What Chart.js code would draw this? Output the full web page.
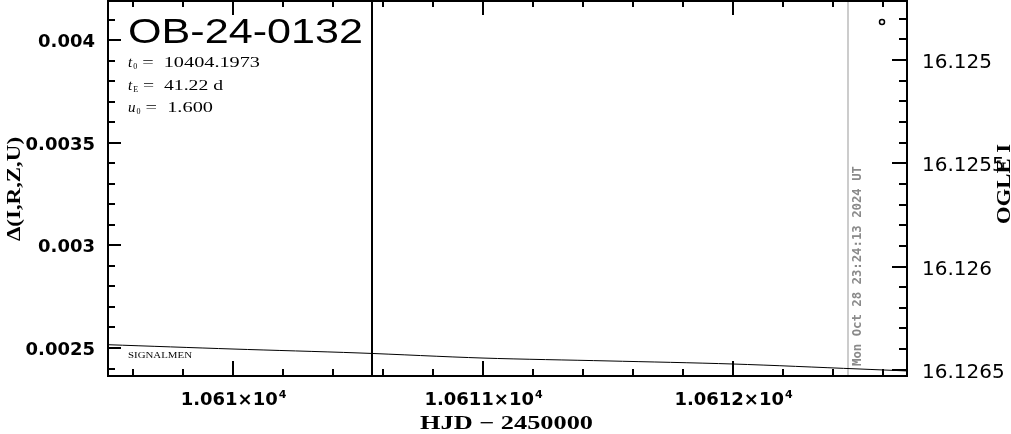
<!DOCTYPE html>
<html>
<head>
<meta charset="utf-8">
<script src="https://cdn.jsdelivr.net/npm/chart.js@4.4.0/dist/chart.umd.min.js"></script>
<style>
  html, body { margin: 0; padding: 0; background: #fff; }
  canvas { display: block; }
</style>
</head>
<body>
<canvas id="lc" width="1011" height="434"></canvas>
<script>
// datos
const modelHjd = [10609.5, 10610.0, 10610.5, 10611.0, 10611.5, 10612.0, 10612.5, 10612.7];
const modelDelta = [0.002516, 0.002495, 0.002476, 0.002451, 0.002437, 0.002422, 0.002398, 0.002388];

const obsHjd = [10612.596];
const obsMag = [16.124816];

const peakHjd = 10610.556;     // linea negra vertical
const nowHjd = 10612.46;       // linea gris (fecha actual)
const nowLabel = "Mon Oct 28 23:24:13 2024 UT";

const leftTicks = [0.0025, 0.003, 0.0035, 0.004];
const leftLabels = ["0.0025", "0.003", "0.0035", "0.004"];
const rightTicks = [16.125, 16.1255, 16.126, 16.1265];
const rightLabels = ["16.125", "16.1255", "16.126", "16.1265"];
const xTicks = [10610, 10611, 10612];
const xMantissa = ["1.061", "1.0611", "1.0612"];

const eventName = "OB-24-0132";
const t0 = "10404.1973";
const tE = "41.22 d";
const u0 = "1.600";

const X_MIN = 10609.5, X_MAX = 10612.696;
const Y_MIN = 0.0023636, Y_MAX = 0.004195;
const M_MIN = 16.12471, M_MAX = 16.12653;

// texto escalado en horizontal para imitar las fuentes anchas de PGPLOT
function fitText(ctx, text, x, y, font, width) {
  ctx.save();
  ctx.font = font;
  const w = ctx.measureText(text).width;
  ctx.translate(x, y);
  ctx.scale(width / w, 1);
  ctx.textAlign = "left";
  ctx.fillText(text, 0, 0);
  ctx.restore();
}

// =========================
// Plugin: marco, ticks hacia dentro y textos
// =========================
const framePlugin = {
  id: "frame",
  afterDraw(chart) {
    const ctx = chart.ctx;
    const a = chart.chartArea;
    const x = chart.scales.x, y = chart.scales.y, y2 = chart.scales.y2;
    ctx.save();
    ctx.strokeStyle = "#000";
    ctx.fillStyle = "#000";
    ctx.textBaseline = "alphabetic";

    // ticks eje X (abajo y arriba)
    ctx.lineWidth = 2;
    for (let v = 10609.6; v < X_MAX; v += 0.2) {
      const px = Math.round(x.getPixelForValue(v));
      const major = Math.abs(v - Math.round(v)) < 1e-6;
      const len = major ? 15 : 7;
      ctx.beginPath();
      ctx.moveTo(px, a.bottom); ctx.lineTo(px, a.bottom - len);
      ctx.moveTo(px, a.top); ctx.lineTo(px, a.top + len);
      ctx.stroke();
    }
    // ticks eje izquierdo
    for (let k = 24; k <= 41; k++) {
      const py = Math.round(y.getPixelForValue(k / 10000));
      if (py < a.top || py > a.bottom) continue;
      const len = k % 5 === 0 ? 13 : 7;
      ctx.beginPath();
      ctx.moveTo(a.left, py); ctx.lineTo(a.left + len, py);
      ctx.stroke();
    }
    // ticks eje derecho
    for (let k = 47; k <= 66; k++) {
      const py = Math.round(y2.getPixelForValue(16.12 + k / 10000));
      if (py < a.top || py > a.bottom) continue;
      const len = k % 5 === 0 ? 15 : 8;
      ctx.beginPath();
      ctx.moveTo(a.right, py); ctx.lineTo(a.right - len, py);
      ctx.stroke();
    }

    // marco
    ctx.strokeRect(a.left, a.top + 1, a.right - a.left, a.bottom - a.top - 1);

    // etiquetas izquierda
    ctx.font = "bold 18px 'DejaVu Sans', sans-serif";
    ctx.textAlign = "right";
    leftTicks.forEach((v, i) => {
      ctx.fillText(leftLabels[i], 95, y.getPixelForValue(v) + 7);
    });
    // etiquetas derecha
    ctx.font = "20px 'DejaVu Sans', sans-serif";
    ctx.textAlign = "left";
    rightTicks.forEach((v, i) => {
      ctx.fillText(rightLabels[i], 922, y2.getPixelForValue(v) + 8);
    });
    // etiquetas X
    xTicks.forEach((v, i) => {
      const px = x.getPixelForValue(v);
      ctx.font = "bold 18px 'DejaVu Sans', sans-serif";
      const m = xMantissa[i] + "\u00d710";
      const wm = ctx.measureText(m).width;
      ctx.font = "bold 11px 'DejaVu Sans', sans-serif";
      const w4 = ctx.measureText("4").width;
      const x0 = px - (wm + w4) / 2;
      ctx.textAlign = "left";
      ctx.font = "bold 18px 'DejaVu Sans', sans-serif";
      ctx.fillText(m, x0, 405);
      ctx.font = "bold 11px 'DejaVu Sans', sans-serif";
      ctx.fillText("4", x0 + wm + 1, 398);
    });

    // titulos de ejes
    const serifB = "'Liberation Serif', 'Times New Roman', serif";
    fitText(ctx, "HJD \u2212 2450000", 420, 429, "bold 19px " + serifB, 173);

    ctx.save();
    ctx.translate(20, 241);
    ctx.rotate(-Math.PI / 2);
    fitText(ctx, "\u0394(I,R,Z,U)", 0, 0, "bold 19px " + serifB, 104);
    ctx.restore();

    ctx.save();
    ctx.translate(1010, 224);
    ctx.rotate(-Math.PI / 2);
    fitText(ctx, "OGLE I", 0, 0, "bold 19px " + serifB, 80);
    ctx.restore();

    // texto de fecha (gris, vertical)
    ctx.save();
    ctx.fillStyle = "#8a8a8a";
    ctx.translate(x.getPixelForValue(nowHjd) + 13, 366);
    ctx.rotate(-Math.PI / 2);
    fitText(ctx, nowLabel, 0, 0, "bold 12px 'DejaVu Sans Mono', monospace", 200);
    ctx.restore();

    // nombre del evento y parametros
    fitText(ctx, eventName, 128, 43, "35px 'Liberation Sans', Arial, sans-serif", 235);

    const rows = [["t", "0", t0, 67, 260], ["t", "E", tE, 90, 223], ["u", "0", u0, 112, 213]];
    rows.forEach(([sym, sub, val, by, xEnd]) => {
      let cx = 128;
      ctx.textAlign = "left";
      ctx.font = "italic 15px 'Liberation Serif', serif";
      ctx.fillText(sym, cx, by);
      cx += ctx.measureText(sym).width + 1;
      ctx.font = "8px 'Liberation Serif', serif";
      ctx.fillText(sub, cx, by + 2);
      cx += ctx.measureText(sub).width + 5;
      fitText(ctx, "=  " + val, cx, by, "15px 'Liberation Serif', serif", xEnd - cx);
    });

    fitText(ctx, "SIGNALMEN", 128, 358, "9px 'Liberation Serif', serif", 64);

    ctx.restore();
  }
};

new Chart(document.getElementById("lc"), {
  type: "scatter",
  data: {
    datasets: [
      {
        label: "modelo",
        data: modelHjd.map((t, i) => ({ x: t, y: modelDelta[i] })),
        showLine: true,
        borderColor: "#000",
        borderWidth: 1,
        pointRadius: 0,
        tension: 0.3,
        yAxisID: "y"
      },
      {
        label: "pico",
        data: [{ x: peakHjd, y: Y_MIN }, { x: peakHjd, y: Y_MAX }],
        showLine: true,
        borderColor: "#000",
        borderWidth: 2,
        pointRadius: 0,
        yAxisID: "y"
      },
      {
        label: "ahora",
        data: [{ x: nowHjd, y: Y_MIN }, { x: nowHjd, y: Y_MAX }],
        showLine: true,
        borderColor: "#999",
        borderWidth: 1,
        pointRadius: 0,
        yAxisID: "y"
      },
      {
        label: "OGLE I",
        data: obsHjd.map((t, i) => ({ x: t, y: obsMag[i] })),
        pointRadius: 2.5,
        pointBorderWidth: 1.5,
        pointBackgroundColor: "#fff",
        pointBorderColor: "#000",
        yAxisID: "y2"
      }
    ]
  },
  options: {
    responsive: false,
    animation: false,
    layout: { autoPadding: false, padding: { left: 108, right: 104, top: 0, bottom: 58 } },
    plugins: { legend: { display: false }, tooltip: { enabled: false } },
    scales: {
      x: { type: "linear", min: X_MIN, max: X_MAX, display: false },
      y: { type: "linear", min: Y_MIN, max: Y_MAX, display: false },
      y2: { type: "linear", min: M_MIN, max: M_MAX, reverse: true, display: false, position: "right" }
    }
  },
  plugins: [framePlugin]
});
</script>
</body>
</html>
